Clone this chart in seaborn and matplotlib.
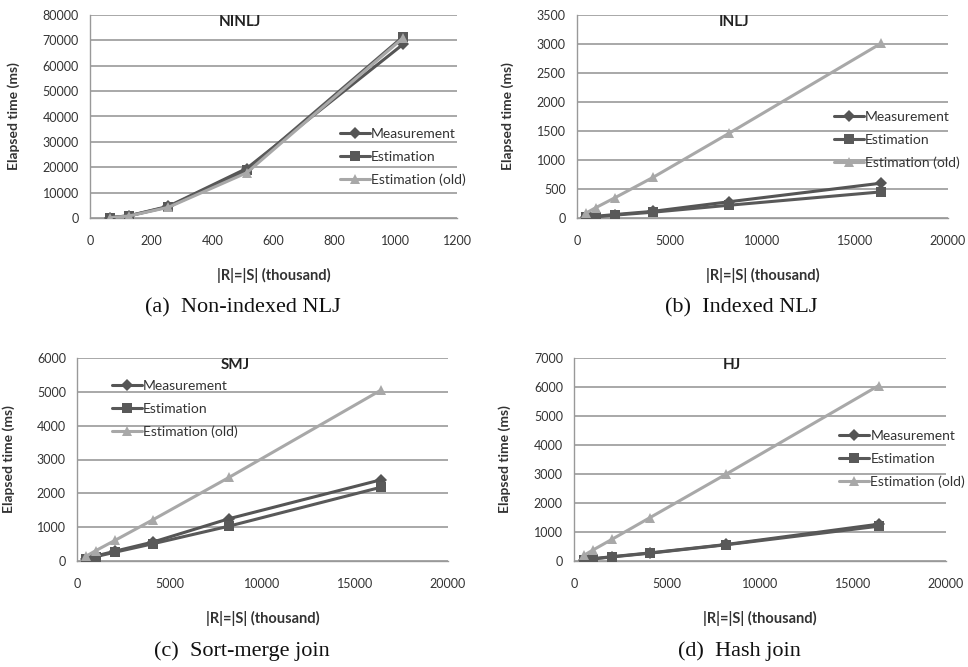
import matplotlib
matplotlib.use("Agg")
import matplotlib.pyplot as plt
import seaborn as sns
import pandas as pd
import numpy as np

# data
x_ninlj = [64, 128, 256, 512, 1024]
ninlj_meas = [150, 900, 4600, 19500, 68500]
ninlj_est = [120, 850, 4400, 18800, 71500]
ninlj_old = [100, 800, 4200, 17800, 71000]

x_big = [512, 1024, 2048, 4096, 8192, 16384]
inlj_meas = [20, 30, 60, 115, 280, 600]
inlj_est = [10, 20, 50, 100, 220, 450]
inlj_old = [90, 180, 350, 700, 1460, 3010]

smj_meas = [70, 150, 290, 560, 1250, 2400]
smj_est = [60, 130, 260, 510, 1030, 2180]
smj_old = [150, 310, 610, 1220, 2470, 5050]

hj_meas = [40, 80, 150, 280, 570, 1270]
hj_est = [35, 70, 140, 270, 560, 1200]
hj_old = [190, 380, 750, 1500, 3000, 6050]

series_names = ["Measurement", "Estimation", "Estimation (old)"]
series_colors = ["#555555", "#595959", "#a8a8a8"]
series_markers = ["D", "s", "^"]
series_msize = [6, 7.5, 7.5]

sns.set_style("white")
plt.rcParams['font.family'] = ['Lato', 'DejaVu Sans']

W, H = 968, 667
fig = plt.figure(figsize=(W / 100, H / 100), dpi=100)


def px_axes(x0, x1, ytop, ybot):
    return fig.add_axes([x0 / W, 1 - ybot / H, (x1 - x0) / W, (ybot - ytop) / H])


panels = [
    dict(box=(90, 457, 15, 218), x=x_ninlj, ys=[ninlj_meas, ninlj_est, ninlj_old],
         xlim=1200, xstep=200, ylim=80000, ystep=10000, title="NINLJ", tpos=(240, 22),
         cap="(a)  Non-indexed NLJ", cpos=(243, 308), ylx=-0.19, leg=(340, 133)),
    dict(box=(577, 948, 15, 218), x=x_big, ys=[inlj_meas, inlj_est, inlj_old],
         xlim=20000, xstep=5000, ylim=3500, ystep=500, title="INLJ", tpos=(734, 22),
         cap="(b)  Indexed NLJ", cpos=(741, 308), ylx=-0.17, leg=(834, 116)),
    dict(box=(77, 448, 358, 561), x=x_big, ys=[smj_meas, smj_est, smj_old],
         xlim=20000, xstep=5000, ylim=6000, ystep=1000, title="SMJ", tpos=(235, 365),
         cap="(c)  Sort-merge join", cpos=(242, 651), ylx=-0.167, leg=(112, 385)),
    dict(box=(574, 946, 358, 561), x=x_big, ys=[hj_meas, hj_est, hj_old],
         xlim=20000, xstep=5000, ylim=7000, ystep=1000, title="HJ", tpos=(732, 365),
         cap="(d)  Hash join", cpos=(739, 651), ylx=-0.17, leg=(839, 435)),
]

for p in panels:
    x0, x1, yt, yb = p["box"]
    ax = px_axes(x0, x1, yt, yb)
    for name, yv, col, mk, ms in zip(series_names, p["ys"], series_colors,
                                     series_markers, series_msize):
        sns.lineplot(x=p["x"], y=yv, ax=ax, color=col, marker=mk, markersize=ms,
                     markeredgewidth=0, linewidth=2.2, label=name, zorder=3)
    ax.set_xlim(0, p["xlim"])
    ax.set_ylim(0, p["ylim"])
    ax.set_xticks(np.arange(0, p["xlim"] + 1, p["xstep"]))
    ax.set_yticks(np.arange(0, p["ylim"] + 1, p["ystep"]))
    ax.yaxis.grid(True, color="#999999", linewidth=1.2)
    ax.set_axisbelow(True)
    for s in ["top", "right"]:
        ax.spines[s].set_visible(False)
    for s in ["left", "bottom"]:
        ax.spines[s].set_color("#999999")
        ax.spines[s].set_linewidth(1.0)
    ax.tick_params(axis="x", direction="out", length=4, width=1, color="#999999",
                   pad=8, labelsize=9, labelcolor="#333333")
    ax.tick_params(axis="y", direction="out", length=3, width=1, color="#999999",
                   pad=5, labelsize=9, labelcolor="#333333")
    ax.set_xlabel("|R|=|S| (thousand)", fontsize=10.5, fontweight="bold", color="#333333")
    ax.set_ylabel("Elapsed time (ms)", fontsize=10, fontweight="bold", color="#333333")
    ax.xaxis.set_label_coords(0.5, -0.245)
    ax.yaxis.set_label_coords(p["ylx"], 0.5)

    lx, ly = p["leg"]
    leg = ax.legend(loc="upper left", bbox_to_anchor=((lx - x0) / (x1 - x0),
                    (yb - ly + 5) / (yb - yt)), frameon=False, fontsize=10,
                    handlelength=2.15, handletextpad=0.1, labelspacing=0.78,
                    borderpad=0, borderaxespad=0)
    for t in leg.get_texts():
        t.set_color("#333333")

    fig.text(p["tpos"][0] / W, 1 - p["tpos"][1] / H, p["title"], ha="center",
             va="center", fontsize=11, fontweight="bold", color="#222222")
    fig.text(p["cpos"][0] / W, 1 - p["cpos"][1] / H, p["cap"], ha="center",
             va="center", fontsize=16, family="Liberation Serif", color="#111111")

fig.savefig("out.png", dpi=100)
